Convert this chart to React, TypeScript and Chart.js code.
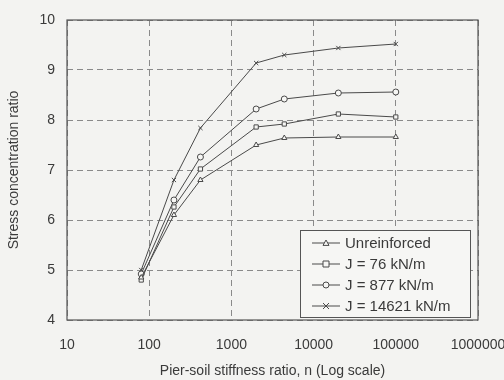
import React, { useEffect, useRef } from "react";
import { Chart, registerables } from "chart.js";

Chart.register(...registerables);

const nValues = [80, 200, 420, 2000, 4400, 20000, 100000];
const unreinforced = [4.85, 6.1, 6.8, 7.5, 7.64, 7.66, 7.66];
const j76 = [4.8, 6.26, 7.02, 7.86, 7.92, 8.12, 8.06];
const j877 = [4.92, 6.4, 7.26, 8.22, 8.42, 8.54, 8.56];
const j14621 = [5.0, 6.8, 7.84, 9.14, 9.3, 9.44, 9.52];

const seriesLabels = ["Unreinforced", "J = 76 kN/m", "J = 877 kN/m", "J = 14621 kN/m"];
const seriesMarkers = ["triangle", "rect", "circle", "crossRot"];
const xTicks = [10, 100, 1000, 10000, 100000, 1000000];
const yTicks = [4, 5, 6, 7, 8, 9, 10];

const LINE = "#4a4a4a";
const TEXT = "#3a3a3a";
const FONT = "'Liberation Sans', Arial, sans-serif";

function drawMarker(ctx: any, style: string, x: number, y: number, r: number) {
  ctx.save();
  ctx.strokeStyle = LINE;
  ctx.fillStyle = "#f6f6f4";
  ctx.lineWidth = 1;
  ctx.beginPath();
  if (style === "triangle") {
    ctx.moveTo(x, y - r);
    ctx.lineTo(x + r, y + r * 0.8);
    ctx.lineTo(x - r, y + r * 0.8);
    ctx.closePath();
  } else if (style === "rect") {
    ctx.rect(x - r, y - r, 2 * r, 2 * r);
  } else if (style === "circle") {
    ctx.arc(x, y, r, 0, Math.PI * 2);
  } else {
    ctx.moveTo(x - r, y - r);
    ctx.lineTo(x + r, y + r);
    ctx.moveTo(x + r, y - r);
    ctx.lineTo(x - r, y + r);
  }
  if (style !== "crossRot") ctx.fill();
  ctx.stroke();
  ctx.restore();
}

const bgPlugin = {
  id: "bgPlugin",
  beforeDraw(chart: any) {
    const { ctx, width, height } = chart;
    ctx.save();
    ctx.fillStyle = "#f3f3f1";
    ctx.fillRect(0, 0, width, height);
    ctx.restore();
  },
  afterDatasetsDraw(chart: any) {
    const { ctx, chartArea } = chart;
    ctx.save();
    ctx.strokeStyle = "#555";
    ctx.lineWidth = 1.2;
    ctx.setLineDash([]);
    ctx.strokeRect(chartArea.left, chartArea.top, chartArea.right - chartArea.left, chartArea.bottom - chartArea.top);
    // legend
    const x0 = 300, y0 = 230, w = 170, h = 87;
    ctx.fillStyle = "#f6f6f4";
    ctx.fillRect(x0, y0, w, h);
    ctx.strokeStyle = "#555";
    ctx.lineWidth = 1;
    ctx.strokeRect(x0 + 0.5, y0 + 0.5, w, h);
    ctx.font = "15px " + FONT;
    ctx.textBaseline = "middle";
    ctx.textAlign = "left";
    chart.data.datasets.forEach((ds: any, i: number) => {
      const yy = y0 + 13 + i * 21;
      ctx.strokeStyle = LINE;
      ctx.lineWidth = 1;
      ctx.beginPath();
      ctx.moveTo(x0 + 12, yy);
      ctx.lineTo(x0 + 40, yy);
      ctx.stroke();
      drawMarker(ctx, ds.pointStyle, x0 + 26, yy, 3);
      ctx.fillStyle = TEXT;
      ctx.fillText(ds.label, x0 + 45, yy + 1);
    });
    ctx.restore();
  },
};

export default function App() {
  const ref = useRef<HTMLCanvasElement>(null);
  useEffect(() => {
    document.body.style.margin = "0";
    const series = [unreinforced, j76, j877, j14621];
    const chart = new Chart(ref.current!, {
      type: "line",
      data: {
        datasets: series.map((s, i) => ({
          label: seriesLabels[i],
          data: s.map((v, k) => ({ x: nValues[k], y: v })),
          borderColor: LINE,
          borderWidth: 1,
          pointStyle: seriesMarkers[i] as any,
          pointRadius: 3,
          pointBorderWidth: 1,
          pointBorderColor: LINE,
          pointBackgroundColor: "#f6f6f4",
          tension: 0,
        })),
      },
      options: {
        animation: false,
        responsive: false,
        layout: { padding: { left: 0, right: 26, top: 20, bottom: 0 } },
        plugins: { legend: { display: false }, tooltip: { enabled: false } },
        scales: {
          x: {
            type: "logarithmic",
            min: 10,
            max: 1000000,
            afterBuildTicks(scale: any) {
              scale.ticks = xTicks.map((v) => ({ value: v }));
            },
            afterFit(scale: any) {
              scale.height = 60;
              scale.paddingLeft = 0;
              scale.paddingRight = 0;
            },
            ticks: {
              autoSkip: false,
              maxRotation: 0,
              padding: 17,
              color: TEXT,
              font: { size: 14, family: FONT },
              callback: (v: any) => String(v),
            },
            grid: { color: "#8a8a8a", lineWidth: 1, drawTicks: false },
            border: { display: false, dash: [6, 4] },
            title: {
              display: true,
              text: "Pier-soil stiffness ratio, n (Log scale)",
              color: TEXT,
              font: { size: 14, family: FONT },
              padding: { top: 0, bottom: 0 },
            },
          },
          y: {
            type: "linear",
            min: 4,
            max: 10,
            afterBuildTicks(scale: any) {
              scale.ticks = yTicks.map((v) => ({ value: v }));
            },
            afterFit(scale: any) {
              scale.width = 67;
              scale.paddingTop = 0;
              scale.paddingBottom = 0;
            },
            ticks: {
              padding: 12,
              color: TEXT,
              font: { size: 14, family: FONT },
            },
            grid: { color: "#8a8a8a", lineWidth: 1, drawTicks: false },
            border: { display: false, dash: [6, 4] },
            title: {
              display: true,
              text: "Stress concentration ratio",
              color: TEXT,
              font: { size: 14, family: FONT },
              padding: { top: 6, bottom: 0 },
            },
          },
        },
      },
      plugins: [bgPlugin],
    });
    return () => chart.destroy();
  }, []);
  return (
    <div style={{ width: 504, height: 380 }}>
      <canvas ref={ref} width={504} height={380} style={{ display: "block" }} />
    </div>
  );
}
